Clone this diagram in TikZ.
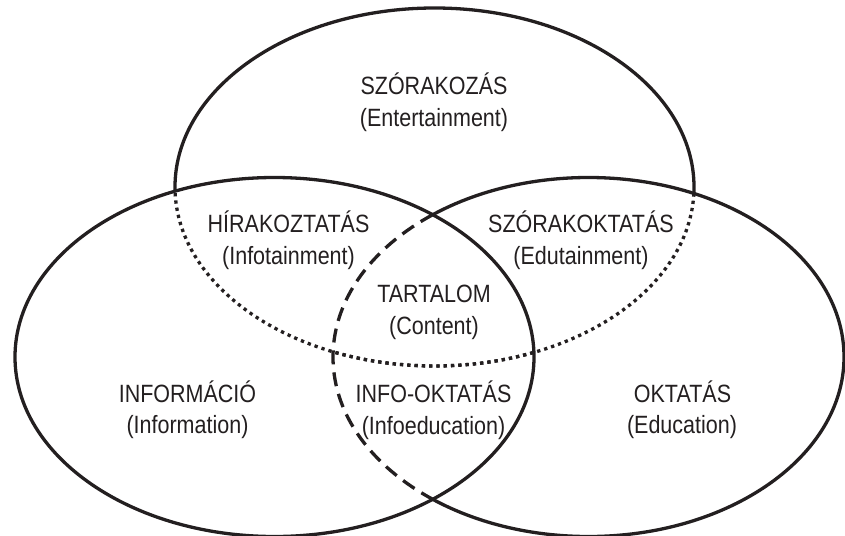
\documentclass[tikz,border=0pt]{standalone}
\usepackage{fontspec}
\setmainfont{Liberation Sans}[FakeStretch=0.86]
\definecolor{ink}{RGB}{35,31,32}
\begin{document}
\begin{tikzpicture}[x=1pt,y=-1pt,
  outline/.style={line width=3.3pt, draw=ink},
  dotline/.style={outline, dash pattern=on 3.3pt off 4pt},
  dashline/.style={outline, dash pattern=on 14pt off 8pt},
  lbl/.style={font=\fontsize{25}{32}\selectfont, anchor=base, inner sep=0pt, text=ink}]
\useasboundingbox (0,0) rectangle (845,535);
\coordinate (cT) at (434.5,187);
\coordinate (cL) at (274.5,357);
\coordinate (cR) at (588.5,357);
% left ellipse
\draw[outline] (cL) ellipse [x radius=259.5pt, y radius=179.5pt];
% right ellipse: dashed inside left, solid outside
\begin{scope}
  \clip (cL) ellipse [x radius=259.5pt, y radius=179.5pt];
  \draw[dashline] (cR) ellipse [x radius=255.5pt, y radius=179.5pt];
\end{scope}
\begin{scope}[even odd rule]
  \clip (-20,-20) rectangle (865,555) (cL) ellipse [x radius=259.5pt, y radius=179.5pt];
  \draw[outline] (cR) ellipse [x radius=255.5pt, y radius=179.5pt];
\end{scope}
% top ellipse: dotted inside left or right, solid outside both
\begin{scope}
  \clip (cL) ellipse [x radius=259.5pt, y radius=179.5pt];
  \draw[dotline] (cT) ellipse [x radius=259.5pt, y radius=179pt];
\end{scope}
\begin{scope}
  \clip (cR) ellipse [x radius=255.5pt, y radius=179.5pt];
  \draw[dotline] (cT) ellipse [x radius=259.5pt, y radius=179pt];
\end{scope}
\begin{scope}[even odd rule]
  \clip (-20,-20) rectangle (865,555) (cL) ellipse [x radius=259.5pt, y radius=179.5pt];
  \clip (-20,-20) rectangle (865,555) (cR) ellipse [x radius=255.5pt, y radius=179.5pt];
  \draw[outline] (cT) ellipse [x radius=259.5pt, y radius=179pt];
\end{scope}
% labels
\node[lbl] (szor) at (434,94.5) {SZÓRAKOZÁS};
\node[lbl] (szorE) at (434,126) {(Entertainment)};
\node[lbl] (hir) at (288.5,232) {HÍRAKOZTATÁS};
\node[lbl] (hirE) at (288.5,264) {(Infotainment)};
\node[lbl] (szok) at (581,232) {SZÓRAKOKTATÁS};
\node[lbl] (szokE) at (581,264) {(Edutainment)};
\node[lbl] (tart) at (434,302.5) {TARTALOM};
\node[lbl] (tartE) at (434,334) {(Content)};
\node[lbl] (info) at (187.5,402.5) {INFORMÁCIÓ};
\node[lbl] (infoE) at (187.5,433.5) {(Information)};
\node[lbl] (io) at (433.5,402.5) {INFO-OKTATÁS};
\node[lbl] (ioE) at (433.5,434) {(Infoeducation)};
\node[lbl] (okt) at (682.5,402.5) {OKTATÁS};
\node[lbl] (oktE) at (682,433.5) {(Education)};
\end{tikzpicture}
\end{document}
